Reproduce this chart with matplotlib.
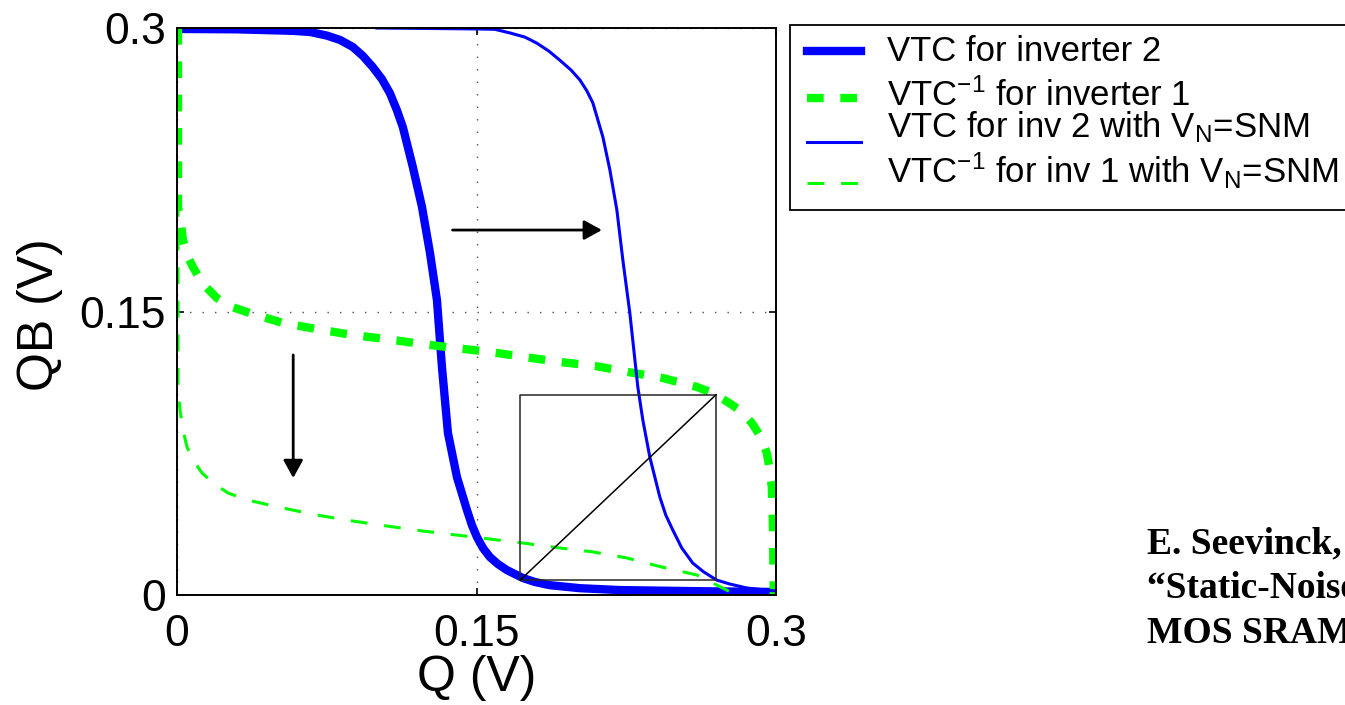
import matplotlib
matplotlib.use("Agg")
import matplotlib.patches as patches
import matplotlib.pyplot as plt
from matplotlib.lines import Line2D

# Fuente tipo Helvetica (como MATLAB)
plt.rcParams["font.family"] = "Liberation Sans"
plt.rcParams["mathtext.fontset"] = "custom"
plt.rcParams["mathtext.rm"] = "Liberation Sans"
plt.rcParams["mathtext.it"] = "Liberation Sans:italic"
plt.rcParams["mathtext.bf"] = "Liberation Sans:bold"

# --- Datos (Q, QB en voltios) ---
# VTC del inversor 2
vtc2_q = [0.0, 0.03, 0.058, 0.0666, 0.075, 0.0816, 0.088, 0.0931, 0.098, 0.1026,
          0.1066, 0.1101, 0.1131, 0.1181, 0.1227, 0.1267, 0.1302, 0.1327, 0.1357,
          0.1402, 0.1452, 0.1477, 0.1502, 0.1532, 0.1567, 0.1607, 0.1652, 0.1692,
          0.1732, 0.1792, 0.1867, 0.2018, 0.222, 0.262, 0.3]
vtc2_qb = [0.2995, 0.2993, 0.2985, 0.2979, 0.296, 0.2937, 0.290, 0.2852, 0.2794, 0.273,
           0.2656, 0.2566, 0.2476, 0.2265, 0.2053, 0.181, 0.156, 0.1206, 0.0857,
           0.0624, 0.045, 0.037, 0.0307, 0.0249, 0.0201, 0.0164, 0.0132, 0.0111,
           0.009, 0.0069, 0.0052, 0.0036, 0.0026, 0.002, 0.0016]

# VTC^-1 del inversor 1
inv1_q = [0.0005, 0.0005, 0.0005, 0.0015, 0.003, 0.005, 0.008, 0.013, 0.02, 0.0275,
          0.0365, 0.0531, 0.0701, 0.0876, 0.1051, 0.1227, 0.1392, 0.1567, 0.1742,
          0.1917, 0.2093, 0.2258, 0.2433, 0.2603, 0.2683, 0.2758, 0.2824, 0.2879,
          0.2924, 0.2954, 0.2969, 0.2979, 0.2984, 0.2989]
inv1_qb = [0.3, 0.2354, 0.2053, 0.2, 0.1878, 0.1799, 0.1735, 0.1646, 0.1571, 0.1524,
           0.1492, 0.1439, 0.1407, 0.1376, 0.1354, 0.1328, 0.1307, 0.1286, 0.1259,
           0.1233, 0.1212, 0.118, 0.1148, 0.1101, 0.1069, 0.1021, 0.0974, 0.091,
           0.0836, 0.0751, 0.0661, 0.0571, 0.0397, 0.0]

# VTC del inversor 2 con V_N = SNM
vtc2n_q = [0.1001, 0.1502, 0.1592, 0.1667, 0.1742, 0.1802, 0.1862, 0.1917, 0.1973,
           0.2018, 0.2053, 0.2083, 0.2133, 0.2168, 0.2203, 0.2233, 0.2268, 0.2308,
           0.2333, 0.2368, 0.2418, 0.2448, 0.2483, 0.2528, 0.2583, 0.2638, 0.2703,
           0.2769, 0.2854, 0.3]
vtc2n_qb = [0.3, 0.2995, 0.2993, 0.2974, 0.2952, 0.292, 0.2878, 0.283, 0.2778,
            0.2725, 0.2667, 0.2603, 0.2423, 0.2249, 0.2037, 0.1772, 0.1492, 0.110,
            0.0926, 0.073, 0.0519, 0.0423, 0.0344, 0.0249, 0.0169, 0.0122, 0.0079,
            0.0058, 0.0037, 0.0021]

# VTC^-1 del inversor 1 con V_N = SNM
inv1n_q = [0.0005, 0.0005, 0.0005, 0.0015, 0.003, 0.005, 0.008, 0.0125, 0.018,
           0.0255, 0.035, 0.0531, 0.0701, 0.0876, 0.1051, 0.1227, 0.1402, 0.1567,
           0.1732, 0.1917, 0.2083, 0.2253, 0.2428, 0.2603, 0.2783]
inv1n_qb = [0.209, 0.156, 0.11, 0.0979, 0.0873, 0.0783, 0.0714, 0.0646, 0.0593,
            0.054, 0.0503, 0.046, 0.0423, 0.0392, 0.0365, 0.0339, 0.0317, 0.0296,
            0.0275, 0.0249, 0.0228, 0.0196, 0.0148, 0.0106, 0.001]

# Cuadrado del SNM (esquina inferior izquierda y lado)
snm_x0, snm_y0, snm_lado = 0.172, 0.008, 0.098

etiquetas = [
    "VTC for inverter 2",
    "VTC$^{-1}$ for inverter 1",
    "VTC for inv 2 with V$_\\mathrm{N}$=SNM",
    "VTC$^{-1}$ for inv 1 with V$_\\mathrm{N}$=SNM",
]
ticks = [0, 0.15, 0.3]
tick_labels = ["0", "0.15", "0.3"]

referencia = [
    "E. Seevinck, F. List, and J. Lohstroh,",
    "\u201cStatic-Noise Margin Analysis of",
    "MOS SRAM Cells,\u201d JSSC, 1987",
]

W, H = 1345, 705


def fx(px):
    return px / W


def fy(py):
    return 1 - py / H


def dibujar():
    fig = plt.figure(figsize=(W / 100, H / 100), dpi=100)
    ax = fig.add_axes([fx(177), fy(595), 599 / W, 567 / H])

    azul, verde = (0, 0, 1), (0, 1, 0)
    estilos = [
        dict(color=azul, lw=6, solid_joinstyle="round"),
        dict(color=verde, lw=6, linestyle=(0, (2, 2))),
        dict(color=azul, lw=2.2, solid_joinstyle="round"),
        dict(color=verde, lw=2.2, linestyle=(0, (5.5, 5.5))),
    ]
    curvas = [(vtc2_q, vtc2_qb), (inv1_q, inv1_qb),
              (vtc2n_q, vtc2n_qb), (inv1n_q, inv1n_qb)]
    for (q, qb), est in zip(curvas, estilos):
        ax.plot(q, qb, **est)

    # Cuadrado y diagonal
    x1, y1 = snm_x0 + snm_lado, snm_y0 + snm_lado
    ax.plot([snm_x0, x1, x1, snm_x0, snm_x0], [snm_y0, snm_y0, y1, y1, snm_y0],
            color="0.15", lw=1.1)
    ax.plot([snm_x0, x1], [snm_y0, y1], color="k", lw=1.1)

    # Flechas
    flecha = dict(arrowstyle="-|>,head_length=0.4,head_width=0.22", color="k",
                  lw=2, mutation_scale=27, shrinkA=0, shrinkB=0)
    ax.annotate("", xy=(0.2128, 0.1931), xytext=(0.138, 0.1931), arrowprops=flecha)
    ax.annotate("", xy=(0.0582, 0.0619), xytext=(0.0582, 0.127), arrowprops=flecha)

    ax.set_xlim(0, 0.3)
    ax.set_ylim(0, 0.3)
    ax.set_xticks(ticks)
    ax.set_xticklabels(tick_labels)
    ax.set_yticks(ticks)
    ax.set_yticklabels(tick_labels)
    ax.tick_params(direction="in", length=5, width=1.2, labelsize=32,
                   top=True, right=True)
    ax.tick_params(axis="x", pad=14)
    ax.tick_params(axis="y", pad=8)
    ax.grid(True, color="0.3", lw=1, linestyle=(0, (1, 8)))
    for s in ax.spines.values():
        s.set_linewidth(1.4)

    ax.set_xlabel("Q (V)", fontsize=36)
    ax.set_ylabel("QB (V)", fontsize=36)
    ax.xaxis.set_label_coords(0.5, -0.106)
    ax.yaxis.set_label_coords(-0.19, 0.494)

    # Leyenda hecha a mano (estilo MATLAB: filas desiguales)
    marco = patches.Rectangle((fx(790), fy(210)), fx(1400) - fx(790), fy(25) - fy(210),
                              transform=fig.transFigure, facecolor="white",
                              edgecolor="k", lw=1.3, clip_on=False)
    fig.add_artist(marco)
    filas_linea = [51, 98, 142, 183]
    filas_texto = [61, 106, 137, 183]
    for est, yl, yt, txt in zip(estilos, filas_linea, filas_texto, etiquetas):
        fig.add_artist(Line2D([fx(807), fx(861)], [fy(yl), fy(yl)],
                              transform=fig.transFigure, **est))
        fig.text(fx(887), fy(yt), txt, fontsize=25, va="baseline", ha="left")

    # Referencia bibliografica (cortada por el borde)
    for i, linea in enumerate(referencia):
        fig.text(fx(1147), fy(553 + 44.5 * i), linea, fontsize=27,
                 family="Liberation Serif", weight="bold", va="baseline")

    fig.savefig("out.png", dpi=100)


if __name__ == "__main__":
    dibujar()
